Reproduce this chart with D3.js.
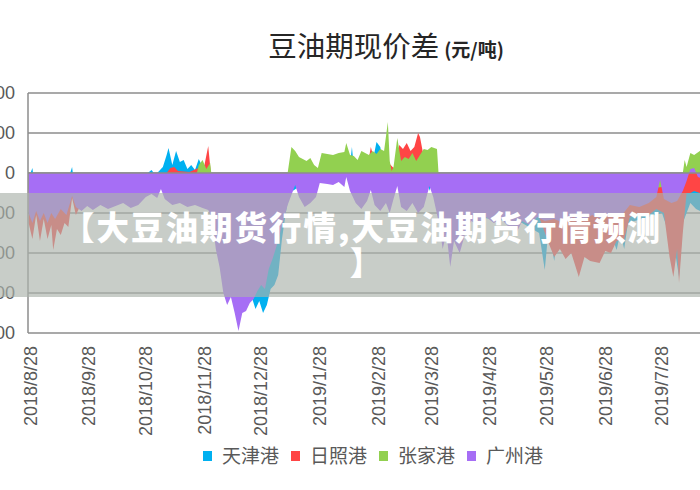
<!DOCTYPE html>
<html>
<head>
<meta charset="utf-8">
<script src="https://cdnjs.cloudflare.com/ajax/libs/d3/7.8.5/d3.min.js"></script>
<style>
body{margin:0;background:#fff}
svg{display:block}
</style>
</head>
<body>
<svg id="chart"></svg>
<script>
// x轴标签 (日期)
var tickLabels = ["2018/8/28","2018/9/28","2018/10/28","2018/11/28","2018/12/28","2019/1/28",
  "2019/2/28","2019/3/28","2019/4/28","2019/5/28","2019/6/28","2019/7/28"];
var yTicks = [400, 200, 0, -200, -400, -600, -800];
var seriesNames = ["天津港", "日照港", "张家港", "广州港"];

// 天津港
var tjDates = ["2018/8/27","2018/8/28","2018/8/29","2018/8/30","2018/9/15","2018/9/18","2018/9/19","2018/9/20",
  "2018/10/20","2018/10/29","2018/10/31","2018/11/2","2018/11/6","2018/11/8","2018/11/9","2018/11/11",
  "2018/11/13","2018/11/15","2018/11/17","2018/11/19","2018/11/21","2018/11/23","2018/11/25","2018/11/27",
  "2018/11/29","2018/12/1","2018/12/10","2018/12/20","2018/12/23","2018/12/25","2018/12/27","2018/12/29",
  "2018/12/31","2019/1/2","2019/1/4","2019/1/6","2019/1/8","2019/1/10","2019/1/12","2019/1/20",
  "2019/2/10","2019/2/13","2019/2/14","2019/2/15","2019/2/25","2019/2/27","2019/3/1","2019/3/3",
  "2019/3/20","2019/3/26","2019/3/27","2019/3/28","2019/4/5","2019/5/15","2019/5/24","2019/5/27",
  "2019/5/29","2019/6/1","2019/6/3","2019/6/20","2019/7/2","2019/7/4","2019/7/6","2019/7/8",
  "2019/7/10","2019/7/28","2019/8/4","2019/8/6","2019/8/8","2019/8/12","2019/8/15","2019/8/19"];
var tjValues = [-100,0,25,-50,-80,0,30,-50,
  -80,0,15,-10,30,90,125,40,
  110,55,65,20,40,15,70,30,
  20,-50,-400,-560,-620,-680,-640,-700,
  -660,-580,-560,-510,-330,-200,-100,-50,
  0,40,130,30,60,155,130,20,
  -20,-40,-90,-50,-200,-250,-300,-485,
  -280,-440,-300,-300,-330,-385,-300,-380,
  -250,-200,-400,-520,-250,-150,-180,-200];

// 日照港
var rzDates = ["2018/8/27","2018/8/29","2018/8/31","2018/9/2","2018/9/4","2018/9/6","2018/9/8","2018/9/9",
  "2018/9/11","2018/9/13","2018/9/15","2018/9/17","2018/9/19","2018/9/21","2018/9/24","2018/10/1",
  "2018/10/15","2018/11/1","2018/11/8","2018/11/10","2018/11/12","2018/11/14","2018/11/20","2018/11/26",
  "2018/11/28","2018/11/30","2018/12/2","2018/12/15","2019/1/1","2019/1/15","2019/2/1","2019/2/20",
  "2019/2/22","2019/2/24","2019/2/26","2019/3/1","2019/3/4","2019/3/6","2019/3/8","2019/3/10",
  "2019/3/11","2019/3/13","2019/3/15","2019/3/17","2019/3/19","2019/3/21","2019/3/22","2019/3/24",
  "2019/3/27","2019/4/1","2019/5/1","2019/5/24","2019/5/29","2019/6/1","2019/6/4","2019/6/7",
  "2019/6/10","2019/6/14","2019/6/17","2019/6/20","2019/6/25","2019/6/28","2019/7/1","2019/7/4",
  "2019/7/8","2019/7/11","2019/7/16","2019/7/21","2019/7/25","2019/7/27","2019/7/29","2019/8/1",
  "2019/8/3","2019/8/5","2019/8/6","2019/8/8","2019/8/10","2019/8/12","2019/8/14","2019/8/17","2019/8/19"];
var rzValues = [-250,-330,-210,-340,-230,-330,-260,-385,
  -280,-310,-250,-270,-125,-210,-150,-120,
  -130,-60,0,25,30,10,5,30,
  40,135,-60,-400,-350,-40,-20,0,
  20,130,60,40,80,45,25,60,
  140,120,150,110,130,200,180,80,
  -40,-150,-200,-220,-350,-420,-380,-430,
  -400,-520,-420,-440,-450,-390,-400,-340,
  -330,-220,-200,-210,-180,-190,-200,-420,
  -520,-380,-550,-300,-100,-100,-90,-100,-110];

// 张家港
var zjDates = ["2018/8/27","2018/11/20","2018/11/24","2018/11/25","2018/11/27","2018/11/29","2018/12/1","2018/12/2",
  "2019/1/10","2019/1/11","2019/1/13","2019/1/15","2019/1/17","2019/1/19","2019/1/21","2019/1/23",
  "2019/1/25","2019/1/27","2019/1/29","2019/2/1","2019/2/4","2019/2/7","2019/2/10","2019/2/11",
  "2019/2/13","2019/2/15","2019/2/17","2019/2/19","2019/2/21","2019/2/23","2019/2/25","2019/2/27",
  "2019/3/1","2019/3/3","2019/3/5","2019/3/6","2019/3/7","2019/3/8","2019/3/10","2019/3/12",
  "2019/3/14","2019/3/16","2019/3/18","2019/3/20","2019/3/22","2019/3/24","2019/3/26","2019/3/28",
  "2019/3/31","2019/4/1","2019/5/1","2019/7/1","2019/8/6","2019/8/8","2019/8/9","2019/8/10",
  "2019/8/12","2019/8/14","2019/8/17","2019/8/19"];
var zjValues = [-80,-50,0,40,65,20,50,-30,
  -30,0,130,110,80,70,60,75,
  40,25,100,95,90,100,105,150,
  90,85,65,110,100,90,110,95,
  120,110,255,60,10,30,175,60,
  80,70,100,60,90,120,115,130,
  120,-30,-100,-100,-60,0,65,30,
  100,90,110,100];

// 广州港
var gzDates = ["2018/8/27","2018/8/29","2018/8/31","2018/9/2","2018/9/4","2018/9/6","2018/9/8","2018/9/10",
  "2018/9/13","2018/9/16","2018/9/19","2018/9/21","2018/9/24","2018/9/27","2018/9/30","2018/10/4",
  "2018/10/8","2018/10/12","2018/10/16","2018/10/20","2018/10/24","2018/10/28","2018/10/31","2018/11/3",
  "2018/11/5","2018/11/7","2018/11/11","2018/11/15","2018/11/19","2018/11/23","2018/11/27","2018/11/30",
  "2018/12/2","2018/12/4","2018/12/6","2018/12/8","2018/12/10","2018/12/12","2018/12/14","2018/12/16",
  "2018/12/18","2018/12/20","2018/12/22","2018/12/24","2018/12/26","2018/12/28","2018/12/30","2019/1/1",
  "2019/1/3","2019/1/5","2019/1/7","2019/1/9","2019/1/11","2019/1/13","2019/1/15","2019/1/17",
  "2019/1/20","2019/1/23","2019/1/26","2019/1/28","2019/2/1","2019/2/4","2019/2/7","2019/2/10",
  "2019/2/11","2019/2/13","2019/2/16","2019/2/19","2019/2/22","2019/2/24","2019/2/26","2019/3/1",
  "2019/3/4","2019/3/6","2019/3/8","2019/3/10","2019/3/12","2019/3/15","2019/3/18","2019/3/21",
  "2019/3/24","2019/3/27","2019/3/29","2019/4/1","2019/4/3","2019/4/5","2019/4/7","2019/4/9",
  "2019/4/12","2019/4/15","2019/4/18","2019/4/22","2019/4/26","2019/4/30","2019/5/4","2019/5/8",
  "2019/5/12","2019/5/15","2019/5/19","2019/5/23","2019/5/27","2019/6/1","2019/6/6","2019/6/11",
  "2019/6/16","2019/6/21","2019/6/26","2019/7/1","2019/7/6","2019/7/11","2019/7/16","2019/7/21",
  "2019/7/25","2019/7/27","2019/7/29","2019/8/2","2019/8/5","2019/8/8","2019/8/10","2019/8/12",
  "2019/8/14","2019/8/16","2019/8/19"];
var gzValues = [-200,-250,-190,-240,-200,-250,-200,-230,
  -180,-210,-115,-170,-190,-165,-185,-160,
  -180,-165,-150,-175,-160,-120,-105,-125,
  -80,-130,-160,-150,-170,-160,-175,-185,
  -220,-380,-470,-600,-660,-620,-700,-790,
  -700,-690,-650,-630,-590,-560,-580,-480,
  -430,-370,-300,-230,-160,-110,-60,-120,
  -170,-150,-120,-50,-55,-60,-45,-70,
  -20,-90,-150,-180,-140,-85,-160,-190,
  -150,-200,-130,-65,-170,-190,-150,-200,
  -170,-65,-120,-250,-380,-300,-470,-340,
  -400,-300,-240,-260,-220,-250,-230,-270,
  -300,-240,-260,-220,-240,-230,-250,-220,
  -240,-210,-230,-200,-220,-160,-170,-150,
  -120,-35,-130,-150,-140,-90,-40,20,
  25,-20,-30];

var colors = ["#00b0f0", "#ff4545", "#92d050", "#a66ef5"];

var width = 700, height = 490;
var parseDate = d3.timeParse("%Y/%m/%d");

function pack(dates, values) {
  return dates.map(function(d, i) { return {date: parseDate(d), value: values[i]}; });
}
var series = [pack(tjDates, tjValues), pack(rzDates, rzValues), pack(zjDates, zjValues), pack(gzDates, gzValues)];

var svg = d3.select("#chart").attr("width", width).attr("height", height)
  .style("font-family", "'Liberation Sans', Arial, sans-serif");
svg.append("rect").attr("width", width).attr("height", height).attr("fill", "#fff");

// 比例尺: 以首末两个标签日期定位
var x = d3.scaleTime()
  .domain([parseDate(tickLabels[0]), parseDate(tickLabels[tickLabels.length - 1])])
  .range([30.5, 662]);
var y = d3.scaleLinear().domain([-800, 400]).range([333, 93]);
var plotLeft = 28, plotRight = 700;

// 网格线
svg.append("g").selectAll("line").data(yTicks).enter().append("line")
  .attr("x1", plotLeft).attr("x2", plotRight)
  .attr("y1", function(d) { return y(d); }).attr("y2", function(d) { return y(d); })
  .attr("stroke", "#8c8c8c").attr("stroke-width", 1.5);

svg.append("clipPath").attr("id", "plotClip").append("rect")
  .attr("x", plotLeft).attr("y", 0).attr("width", plotRight - plotLeft).attr("height", height);

var area = d3.area()
  .x(function(d) { return x(d.date); })
  .y0(y(0))
  .y1(function(d) { return y(d.value); });

svg.append("g").attr("clip-path", "url(#plotClip)")
  .selectAll("path").data(series).enter().append("path")
  .attr("d", area)
  .attr("fill", function(d, i) { return colors[i]; });

// 0轴 与 纵轴
svg.append("line").attr("x1", plotLeft).attr("x2", plotRight).attr("y1", y(0)).attr("y2", y(0))
  .attr("stroke", "#8c8c8c").attr("stroke-width", 1.5);
svg.append("line").attr("x1", plotLeft).attr("x2", plotLeft).attr("y1", y(400)).attr("y2", y(-800))
  .attr("stroke", "#8c8c8c").attr("stroke-width", 1.5);

// 纵轴标签 (左侧被裁切)
svg.append("g").selectAll("text").data(yTicks).enter().append("text")
  .attr("x", 15).attr("y", function(d) { return y(d); })
  .attr("dy", "0.35em").attr("text-anchor", "end")
  .attr("font-size", 18).attr("fill", "#595959")
  .text(function(d) { return d; });

// 横轴标签
svg.append("g").selectAll("text").data(tickLabels).enter().append("text")
  .attr("transform", function(d) { return "translate(" + x(parseDate(d)) + ",346) rotate(-90)"; })
  .attr("dy", "0.35em").attr("text-anchor", "end")
  .attr("font-size", 18).attr("fill", "#595959")
  .text(function(d) { return d; });

// 标题
var title = svg.append("text").attr("x", 386).attr("y", 57).attr("text-anchor", "middle")
  .style("font-family", "'Noto Sans CJK SC', sans-serif").attr("fill", "#262626");
title.append("tspan").attr("font-size", 28.5).text("豆油期现价差");
title.append("tspan").attr("font-size", 19).attr("font-weight", "bold").attr("dx", 5).text("(元/吨)");

// 图例
var legend = svg.append("g").selectAll("g").data(seriesNames).enter().append("g")
  .attr("transform", function(d, i) { return "translate(" + (203 + i * 88) + ",451)"; });
legend.append("rect").attr("width", 9).attr("height", 10)
  .attr("fill", function(d, i) { return colors[i]; });
legend.append("text").attr("x", 19).attr("y", 5).attr("dy", "0.35em")
  .style("font-family", "'Noto Sans CJK SC', sans-serif")
  .attr("font-size", 19).attr("fill", "#595959")
  .text(function(d) { return d; });

// 覆盖的标题横幅
svg.append("rect").attr("x", 0).attr("y", 193).attr("width", width).attr("height", 104)
  .attr("fill", "rgb(171,179,171)").attr("fill-opacity", 0.66);
var banner = svg.append("text").attr("text-anchor", "middle")
  .style("font-family", "'Noto Sans CJK SC', sans-serif")
  .attr("font-size", 32.5).attr("font-weight", 900).attr("fill", "#fff")
  .attr("letter-spacing", 2);
banner.append("tspan").attr("x", 362).attr("y", 240).text("【大豆油期货行情,大豆油期货行情预测");
banner.append("tspan").attr("x", 367).attr("y", 275).text("】");
</script>
</body>
</html>
